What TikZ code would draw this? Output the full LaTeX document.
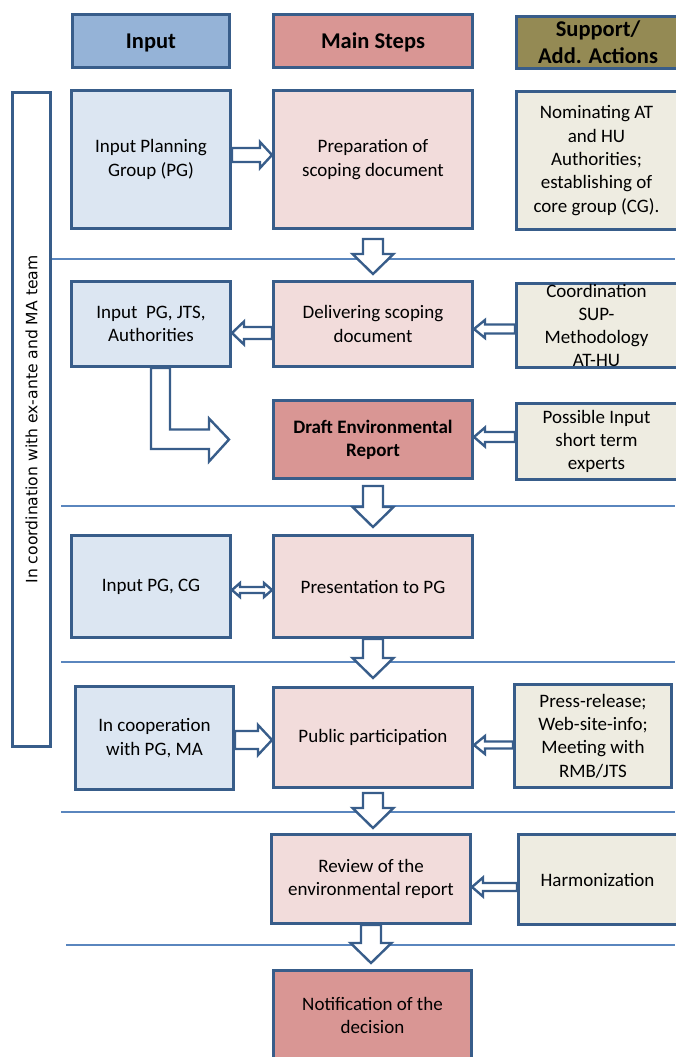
\documentclass[tikz,border=0pt]{standalone}
\usepackage{fontspec}
\setmainfont{Carlito}
\newfontfamily\vfont{DejaVu Sans}
\usetikzlibrary{calc}
\definecolor{bord}{HTML}{385D8A}
\definecolor{sepc}{HTML}{5A86BE}
\definecolor{hblue}{HTML}{95B3D7}
\definecolor{hred}{HTML}{D99694}
\definecolor{holive}{HTML}{948A54}
\definecolor{lblue}{HTML}{DCE6F2}
\definecolor{lpink}{HTML}{F2DCDB}
\definecolor{lbeige}{HTML}{EEECE1}
\tikzset{
  box/.style={draw=bord,line width=3pt,inner sep=0pt},
  txt/.style={align=center,font=\fontsize{19}{23.3}\selectfont,text=black,inner sep=0pt},
  htxt/.style={align=center,font=\fontsize{22.5}{27}\selectfont\bfseries,text=black,inner sep=0pt},
  barrow/.style={draw=bord,fill=white,line width=2.4pt,line join=miter},
  sep/.style={draw=sepc,line width=1.5pt},
}
% box: name, x1,y1,x2,y2, style, text style, text
\newcommand\bx[8]{%
  \node[box,#6,minimum width={#4-#2-3},minimum height={#5-#3-3}] (#1) at ({(#2+#4)/2},{(#3+#5)/2}) {};
  \node[#7] (#1-t) at (#1.center) {#8};}
% right-pointing arrow: src, dst, y, shaft half, head half, head length
\newcommand\rarr[6]{%
  \draw[barrow] let \p1=(#1.east), \p2=(#2.west), \p3=(0,#3) in
   (\x1,\y3+#4pt) -- (\x2-#6pt,\y3+#4pt) -- (\x2-#6pt,\y3+#5pt) -- (\x2,\y3)
   -- (\x2-#6pt,\y3-#5pt) -- (\x2-#6pt,\y3-#4pt) -- (\x1,\y3-#4pt) -- cycle;}
% left-pointing arrow: src (right), dst (left), y, shaft half, head half, head length
\newcommand\larr[6]{%
  \draw[barrow] let \p1=(#1.west), \p2=(#2.east), \p3=(0,#3) in
   (\x1,\y3+#4pt) -- (\x2+#6pt,\y3+#4pt) -- (\x2+#6pt,\y3+#5pt) -- (\x2,\y3)
   -- (\x2+#6pt,\y3-#5pt) -- (\x2+#6pt,\y3-#4pt) -- (\x1,\y3-#4pt) -- cycle;}
% down arrow: src, dst, top gap, tip gap
\newcommand\darr[4]{%
  \draw[barrow] let \p1=(#1.south), \p2=(#2.north) in
   (\x1-10pt,\y1-#3pt) -- (\x1-10pt,\y2+#4pt+20pt) -- (\x1-20.5pt,\y2+#4pt+20pt) -- (\x1,\y2+#4pt)
   -- (\x1+20.5pt,\y2+#4pt+20pt) -- (\x1+10pt,\y2+#4pt+20pt) -- (\x1+10pt,\y1-#3pt) -- cycle;}
\begin{document}
\begin{tikzpicture}[x=1pt,y=-1pt]
\useasboundingbox (0,0) rectangle (675,1057);
\fill[white] (0,0) rectangle (675,1057);

% separator lines
\draw[sep] (52,259) -- (675,259);
\draw[sep] (61,506) -- (675,506);
\draw[sep] (61,662) -- (675,662);
\draw[sep] (61,812) -- (675,812);
\draw[sep] (66,945) -- (675,945);

% headers
\bx{hin}{71}{13}{231}{69}{fill=hblue}{htxt,yshift=-1.5pt}{Input}
\bx{hms}{272}{13}{474}{69}{fill=hred}{htxt,yshift=-1.5pt}{Main Steps}
\bx{hsu}{515}{15}{681}{70}{fill=holive}{htxt}{Support/\\Add. Actions}

% left vertical box
\node[box,fill=white,minimum width={52-11-3},minimum height={748-91-3}] (side) at ({(11+52)/2},{(91+748)/2}) {};
\node[rotate=90,font=\vfont\fontsize{15.6}{18}\selectfont,inner sep=0pt] (side-t) at (side.center) {In coordination with ex-ante and MA team};

% row 1
\bx{inpg}{70}{89}{232}{230}{fill=lblue}{txt}{Input Planning\\Group (PG)}
\bx{prep}{272}{89}{474}{230}{fill=lpink}{txt}{Preparation of\\scoping document}
\bx{nom}{515}{90}{681}{231}{fill=lbeige}{txt,xshift=-1.5pt}{Nominating AT\\and HU\\Authorities;\\establishing of\\core group (CG).}

% row 2
\bx{inpj}{70}{280}{232}{368}{fill=lblue}{txt}{Input\ \ PG, JTS,\\Authorities}
\bx{deliv}{272}{280}{474}{368}{fill=lpink}{txt}{Delivering scoping\\document}
\bx{coord}{515}{282}{681}{369}{fill=lbeige}{txt,xshift=-1.5pt}{Coordination\\SUP-\\Methodology\\AT-HU}

% row 3
\bx{draft}{272}{399}{474}{480}{fill=hred}{txt,font=\fontsize{19}{23.3}\selectfont\bfseries}{Draft Environmental\\Report}
\bx{poss}{515}{402}{681}{481}{fill=lbeige}{txt,xshift=-1.5pt}{Possible Input\\short term\\experts}

% row 4
\bx{inpc}{70}{534}{232}{639}{fill=lblue}{txt}{Input PG, CG}
\bx{pres}{272}{534}{474}{639}{fill=lpink}{txt}{Presentation to PG}

% row 5
\bx{coop}{74}{685}{235}{791}{fill=lblue}{txt}{In cooperation\\with PG, MA}
\bx{pub}{272}{686}{474}{789}{fill=lpink}{txt}{Public participation}
\bx{press}{513}{683}{673}{789}{fill=lbeige}{txt}{Press-release;\\Web-site-info;\\Meeting with\\RMB/JTS}

% row 6
\bx{rev}{270}{833}{472}{925}{fill=lpink}{txt}{Review of the\\environmental report}
\bx{harm}{517}{833}{681}{926}{fill=lbeige}{txt,xshift=-1.5pt}{Harmonization}

% row 7
\bx{notif}{272}{969}{473}{1062}{fill=hred}{txt}{Notification of the\\decision}

% horizontal arrows
\rarr{inpg}{prep}{155}{7}{13}{12}
\larr{deliv}{inpj}{333}{6}{11.5}{12}
\larr{coord}{deliv}{329}{4.5}{9}{11}
\larr{poss}{draft}{437}{5}{9.5}{11}
\rarr{coop}{pub}{740}{9}{15}{14}
\larr{press}{pub}{745}{3.5}{9}{11}
\larr{harm}{rev}{887}{4}{9.5}{11}

% double arrow
\draw[barrow] let \p1=(inpc.east), \p2=(pres.west), \p3=(0,590) in
  (\x1,\y3) -- (\x1+8pt,\y3+7pt) -- (\x1+8pt,\y3+3pt) -- (\x2-8pt,\y3+3pt) -- (\x2-8pt,\y3+7pt)
  -- (\x2,\y3) -- (\x2-8pt,\y3-7pt) -- (\x2-8pt,\y3-3pt) -- (\x1+8pt,\y3-3pt) -- (\x1+8pt,\y3-7pt) -- cycle;

% bent arrow
\draw[barrow] let \p1=(inpj.south), \p2=(draft.west) in
  (\x1,\y1) -- (\x1,\y2-9.5pt) -- (\x2-63pt,\y2-9.5pt) -- (\x2-63pt,\y2-22pt) -- (\x2-43pt,\y2)
  -- (\x2-63pt,\y2+21pt) -- (\x2-63pt,\y2+10pt) -- (\x1+19pt,\y2+10pt) -- (\x1+19pt,\y1) -- cycle;

% down arrows
\darr{prep}{deliv}{9}{6}
\darr{draft}{pres}{6}{7}
\darr{pres}{pub}{0}{8}
\darr{pub}{rev}{4}{5}
\darr{rev}{notif}{0}{6}
\end{tikzpicture}
\end{document}
